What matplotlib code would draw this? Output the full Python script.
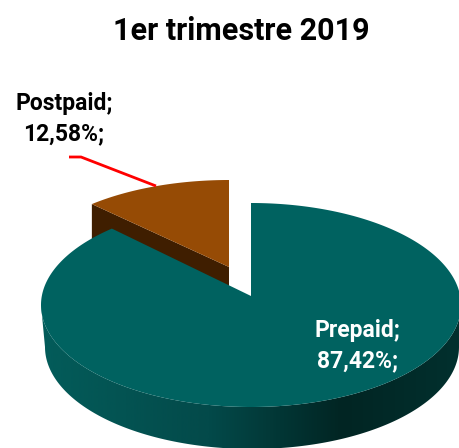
import numpy as np
import matplotlib
matplotlib.use("Agg")
import matplotlib.pyplot as plt
from matplotlib.colors import LinearSegmentedColormap

title = "1er trimestre 2019"
labels = ["Prepaid", "Postpaid"]
shares = [87.42, 12.58]
share_text = ["87,42%", "12,58%"]

teal = "#006260"
brown = "#964b05"
brown_side = "#3f1e00"
side_cmap = LinearSegmentedColormap.from_list(
    "side", [(0, "#035c5a"), (0.4, "#034a4a"), (0.72, "#012523"), (1, "#02302e")])
font = "Roboto"


def ellipse(cx, cy, rx, ry, start, stop, n=300):
    # angles run clockwise from 12 o'clock, in percent of the pie
    a = np.radians(np.linspace(start, stop, n) * 3.6)
    a = a - np.radians(3.8) * np.sin(2 * a)  # far side looks squeezed in perspective
    return cx + rx * np.sin(a), cy - ry * np.cos(a)


fig = plt.figure(figsize=(4.59, 4.48), dpi=100)
ax = fig.add_axes([0, 0, 1, 1])
ax.set_xlim(0, 459)
ax.set_ylim(448, 0)
ax.axis("off")

# postpaid slice, pulled out up and left, sits behind the big one
tip2x, tip2y = 229, 267
x2, y2 = ellipse(tip2x, 276, 207, 96, 100 - shares[1], 100)
ax.fill([x2[0], tip2x, tip2x, x2[0]], [y2[0], tip2y, tip2y + 36, y2[0] + 36],
        color=brown_side, lw=0, zorder=1)
ax.fill(np.r_[tip2x, x2], np.r_[tip2y, y2], color=brown, lw=0, zorder=2)

# rim of the prepaid slice, shaded left to right
cx1, cy1 = 251, 305
rx, ry = 210, 102
xt, yt = ellipse(cx1, cy1, rx, ry, 25, 75)
xb, yb = ellipse(cx1 + 1, cy1 + 42, rx - 3, ry, 25, 75)
rim = ax.fill(np.r_[xt, xb[::-1]], np.r_[yt, yb[::-1]], color="none", lw=0)[0]
grad = ax.imshow(np.linspace(0, 1, 459).reshape(1, -1), cmap=side_cmap, aspect="auto",
                 extent=(41, 459, 448, 0), zorder=3)
grad.set_clip_path(rim)
ax.set_xlim(0, 459)
ax.set_ylim(448, 0)

# prepaid slice
x1, y1 = ellipse(cx1, cy1, rx, ry, 0, shares[0], 500)
ax.fill(np.r_[cx1, x1], np.r_[296, y1], color=teal, lw=0, zorder=4)

# leader line of the postpaid label
ax.plot([69, 81, 156], [157, 157, 186], color="#ff0000", lw=2, zorder=5,
        solid_capstyle="butt", solid_joinstyle="miter")

ax.text(241, 31, title, family=font, fontsize=22, fontweight="bold",
        ha="center", va="center", color="black")
ax.text(64, 119, f"{labels[1]};\n{share_text[1]};", family=font, fontsize=16.5,
        fontweight="bold", ha="center", va="center", color="black", linespacing=1.4, zorder=6)
ax.text(357, 346, f"{labels[0]};\n{share_text[0]};", family=font, fontsize=16.5,
        fontweight="bold", ha="center", va="center", color="white", linespacing=1.4, zorder=6)

fig.savefig("out.png", dpi=100)
